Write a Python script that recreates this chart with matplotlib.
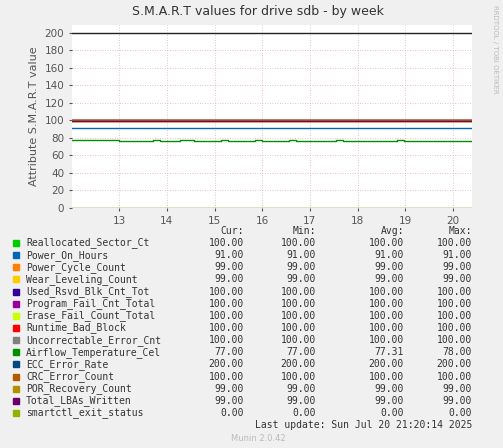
import matplotlib
matplotlib.use("Agg")
import matplotlib.pyplot as plt
import numpy as np

names = ["Reallocated_Sector_Ct","Power_On_Hours","Power_Cycle_Count","Wear_Leveling_Count",
         "Used_Rsvd_Blk_Cnt_Tot","Program_Fail_Cnt_Total","Erase_Fail_Count_Total","Runtime_Bad_Block",
         "Uncorrectable_Error_Cnt","Airflow_Temperature_Cel","ECC_Error_Rate","CRC_Error_Count",
         "POR_Recovery_Count","Total_LBAs_Written","smartctl_exit_status"]
colors = ["#00cc00","#0066b3","#ff8000","#ffcc00","#330099","#990099","#ccff00","#ff0000",
          "#808080","#008f00","#00487d","#b35a00","#b38f00","#6b006b","#8fb300"]
cur = [100,91,99,99,100,100,100,100,100,77,200,100,99,99,0]
mn  = [100,91,99,99,100,100,100,100,100,77,200,100,99,99,0]
avg = [100,91,99,99,100,100,100,100,100,77.31,200,100,99,99,0]
mx  = [100,91,99,99,100,100,100,100,100,78,200,100,99,99,0]
airflow = [78,78,78,78,78,78,78,77,77,77,77,77,78,77,77,77,78,78,77,77,77,77,78,77,77,
           77,77,78,77,77,77,77,78,77,77,77,77,77,77,78,77,77,77,77,77,77,77,77,78,77,
           77,77,77,77,77,77,77,77,77,77]
xticks = [13,14,15,16,17,18,19,20]

W,H = 503,448
fig = plt.figure(figsize=(W/100,H/100), dpi=100, facecolor="#f0f0f0")
ax = fig.add_axes([72/W, 1-208/H, 400/W, 183/H])
ax.set_facecolor("white")
x0, x1 = 12.01, 20.4
t = np.linspace(x0, x1, len(airflow))
for i in range(15):
    if i == 9:
        ax.step(t, airflow, where="post", color=colors[i], lw=1)
    else:
        c = "#222222" if i == 10 else colors[i]
        ax.plot([x0,x1],[cur[i],cur[i]], color=c, lw=1)
ax.set_xlim(x0,x1); ax.set_ylim(0,209)
ax.set_xticks(xticks); ax.set_xticklabels([str(v) for v in xticks])
ax.set_yticks(range(0,201,20))
ax.grid(True, color="#e0b0b0", ls=(0,(1,2)), lw=0.6)
ax.tick_params(labelsize=7.5, colors="#555555", length=2)
for s in ax.spines.values(): s.set_visible(False)
ax.axhline(0, color="black", lw=0.8)
ax.set_ylabel("Attribute S.M.A.R.T value", fontsize=8, color="#555555")

fig.text(258/W, 1-12/H, "S.M.A.R.T values for drive sdb - by week", ha="center", va="center", fontsize=9, color="#333333")
fig.text(495/W, 1-5/H, "RRDTOOL / TOBI OETIKER", rotation=270, ha="center", va="top", fontsize=5, color="#bbbbbb")
mono = dict(family="DejaVu Sans Mono", fontsize=7, color="#333333", va="center")
colx = [244,316,404,472]
for x, h in zip(colx, ["Cur:","Min:","Avg:","Max:"]):
    fig.text(x/W, 1-231/H, h, ha="right", **mono)
for i in range(15):
    y = 1-(243+12.14*i)/H
    fig.patches.append(plt.Rectangle((13/W, y-3/H), 6/W, 6/H, color=colors[i], transform=fig.transFigure))
    fig.text(26/W, y, names[i], ha="left", **mono)
    for x, v in zip(colx, [cur[i],mn[i],avg[i],mx[i]]):
        fig.text(x/W, y, f"{v:.2f}", ha="right", **mono)
fig.text(472/W, 1-425/H, "Last update: Sun Jul 20 21:20:14 2025", ha="right", **mono)
fig.text(258/W, 1-438/H, "Munin 2.0.42", ha="center", va="center", fontsize=6, color="#bbbbbb")
fig.savefig("out.png", dpi=100, facecolor=fig.get_facecolor())
